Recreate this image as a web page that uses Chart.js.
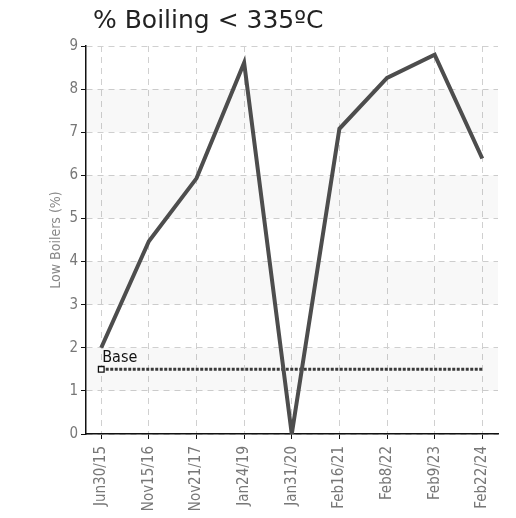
<!DOCTYPE html>
<html>
<head>
<meta charset="utf-8">
<script src="https://cdn.jsdelivr.net/npm/chart.js@4"></script>
<style>
  html, body { margin: 0; padding: 0; background: #fff; }
  #wrap { width: 516px; height: 518px; }
</style>
</head>
<body>
<div id="wrap"><canvas id="chart"></canvas></div>
<script>
let labels = ["Jun30/15", "Nov15/16", "Nov21/17", "Jan24/19", "Jan31/20", "Feb16/21", "Feb8/22", "Feb9/23", "Feb22/24"];
let lowBoilers = [2.0, 4.47, 5.93, 8.61, 0, 7.08, 8.26, 8.8, 6.39];
let baseValue = 1.5;
let yTicks = [0, 1, 2, 3, 4, 5, 6, 7, 8, 9];

let narrow = "'Liberation Sans Narrow', 'DejaVu Sans Condensed', 'Liberation Sans', sans-serif";

let mainData = lowBoilers.map((v, i) => ({ x: i, y: v }));
let baseData = labels.map((l, i) => ({ x: i, y: baseValue }));

// light bands 1-2, 3-4, 5-6, 7-8
let bands = {
  id: "bands",
  beforeDatasetsDraw(chart) {
    let ctx = chart.ctx, a = chart.chartArea, y = chart.scales.y;
    ctx.save();
    ctx.fillStyle = "rgba(0,0,0,0.028)";
    for (let v = 1; v < 9; v += 2) {
      let top = y.getPixelForValue(v + 1);
      let bot = y.getPixelForValue(v);
      ctx.fillRect(a.left + 1, top, a.right - a.left - 1, bot - top);
    }
    ctx.restore();
  }
};

let baseLabel = {
  id: "baseLabel",
  afterDatasetsDraw(chart) {
    let ctx = chart.ctx, x = chart.scales.x, y = chart.scales.y;
    let px = x.getPixelForValue(0), py = y.getPixelForValue(baseValue);
    ctx.save();
    ctx.fillStyle = "#111";
    ctx.font = "16px " + narrow;
    ctx.textBaseline = "bottom";
    ctx.fillText("Base", px + 1, py - 3);
    ctx.restore();
  }
};

let moveTitle = {
  id: "moveTitle",
  afterLayout(chart) {
    if (chart.titleBlock) {
      let w = chart.titleBlock.right - chart.titleBlock.left;
      chart.titleBlock.left = chart.chartArea.left + 7;
      chart.titleBlock.right = chart.titleBlock.left + w;
    }
  }
};

let config = {
  type: "line",
  data: {
    datasets: [
      {
        label: "Low Boilers",
        data: mainData,
        borderColor: "#4d4d4d",
        borderWidth: 4,
        pointRadius: 0,
        tension: 0,
        fill: false
      },
      {
        label: "Base",
        data: baseData,
        borderColor: "#3a3a3a",
        borderWidth: 3,
        borderDash: [3, 1.5],
        pointRadius: baseData.map((p, i) => (i == 0 ? 4 : 0)),
        pointStyle: "rect",
        pointBackgroundColor: "#fff",
        pointBorderColor: "#111",
        pointBorderWidth: 1.3,
        fill: false
      }
    ]
  },
  options: {
    responsive: true,
    maintainAspectRatio: false,
    animation: false,
    layout: { padding: { left: 0, right: 18, top: 0, bottom: 0 } },
    plugins: {
      legend: { display: false },
      tooltip: { enabled: false },
      title: {
        display: true,
        text: "% Boiling < 335ºC",
        align: "start",
        color: "#222",
        font: { family: "'DejaVu Sans', sans-serif", size: 25, weight: "normal" },
        padding: { top: 6, bottom: 10 }
      }
    },
    scales: {
      x: {
        type: "linear",
        min: -0.32,
        max: 8.33,
        afterBuildTicks(scale) {
          scale.ticks = labels.map((l, i) => ({ value: i }));
        },
        ticks: {
          autoSkip: false,
          minRotation: 90,
          maxRotation: 90,
          color: "#777",
          font: { family: narrow, size: 15 },
          padding: 7,
          callback: (v) => labels[v]
        },
        grid: { color: "#d0d0d0", tickColor: "#111", tickLength: 5, lineWidth: 1 },
        border: { color: "#111", width: 1.5, dash: [6, 5] },
        afterFit(scale) { scale.height = 84; }
      },
      y: {
        min: 0,
        max: 9,
        afterBuildTicks(scale) {
          scale.ticks = yTicks.map((v) => ({ value: v }));
        },
        ticks: {
          color: "#777",
          font: { family: narrow, size: 15 },
          padding: 3
        },
        grid: { color: "#d0d0d0", tickColor: "#111", tickLength: 5, lineWidth: 1 },
        border: { color: "#111", width: 1.5, dash: [6, 5] },
        title: {
          display: true,
          text: "Low Boilers (%)",
          color: "#888",
          font: { family: narrow, size: 14 },
          padding: { top: 48, bottom: 0 }
        },
        afterFit(scale) { scale.width = 86; }
      }
    }
  },
  plugins: [bands, baseLabel, moveTitle]
};

window.onload = function() {
  var ctx = document.getElementById("chart").getContext("2d");
  window.chart = new Chart(ctx, config);
};
</script>
</body>
</html>
